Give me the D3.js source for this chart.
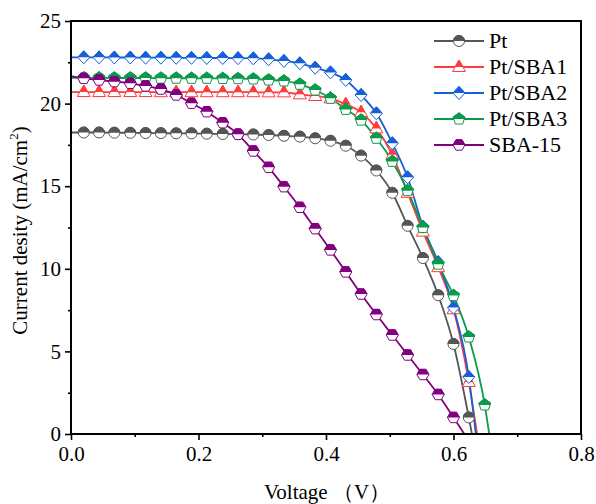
<!DOCTYPE html>
<html><head><meta charset="utf-8">
<script src="https://cdn.jsdelivr.net/npm/d3@7"></script>
<style>body{margin:0;background:#fff}svg{display:block}</style>
</head><body><svg id="c" width="596" height="504"></svg>
<script>
// ---------- data ----------
const voltage = [0.020, 0.044, 0.068, 0.093, 0.117, 0.141, 0.165, 0.189, 0.213, 0.238,
                 0.262, 0.286, 0.310, 0.334, 0.359, 0.383, 0.407, 0.431, 0.455, 0.479,
                 0.504, 0.528, 0.552, 0.576, 0.600, 0.624, 0.649];
const seriesNames = ["Pt", "Pt/SBA1", "Pt/SBA2", "Pt/SBA3", "SBA-15"];
const ptJ    = [18.25, 18.25, 18.24, 18.23, 18.22, 18.21, 18.20, 18.20, 18.18, 18.16,
                18.15, 18.13, 18.10, 18.05, 18.00, 17.90, 17.75, 17.45, 16.85, 15.95,
                14.60, 12.60, 10.65, 8.40, 5.45, 1.00];
const sba1J  = [20.70, 20.70, 20.70, 20.70, 20.70, 20.69, 20.69, 20.69, 20.69, 20.69,
                20.69, 20.69, 20.68, 20.68, 20.56, 20.46, 20.32, 19.96, 19.47, 18.50,
                16.90, 14.60, 12.25, 10.10, 7.55, 3.15];
const sba2J  = [22.80, 22.80, 22.79, 22.79, 22.78, 22.78, 22.77, 22.77, 22.76, 22.76,
                22.75, 22.74, 22.68, 22.58, 22.44, 22.17, 21.89, 21.43, 20.52, 19.41,
                17.60, 15.54, 12.55, 10.40, 7.65, 3.45];
const sba3J  = [21.56, 21.56, 21.55, 21.55, 21.55, 21.54, 21.54, 21.53, 21.53, 21.52,
                21.51, 21.49, 21.43, 21.37, 21.17, 20.82, 20.32, 19.65, 19.00, 17.90,
                16.50, 14.73, 12.50, 10.28, 8.38, 5.87, 1.76];
const sba15J = [21.53, 21.43, 21.33, 21.23, 21.07, 20.88, 20.52, 20.02, 19.51, 18.84,
                18.14, 17.13, 16.14, 14.97, 13.72, 12.43, 11.14, 9.81, 8.47, 7.23,
                5.99, 4.78, 3.60, 2.39, 1.00];
const jscValues = [18.25, 20.70, 22.80, 21.56, 21.67];   // current at V = 0
const vocValues = [0.629, 0.637, 0.635, 0.656, 0.617];   // voltage at J = 0
const xTicks = [0.0, 0.2, 0.4, 0.6, 0.8];
const xMinorTicks = [0.1, 0.3, 0.5, 0.7];
const yTicks = [0, 5, 10, 15, 20, 25];
const yMinorTicks = [2.5, 7.5, 12.5, 17.5, 22.5];

// ---------- style ----------
const colors = ["#555555", "#ff3b3b", "#1560d8", "#0b9a4c", "#800080"];
const shapes = ["circle", "triangle", "diamond", "pentagon", "hexagon"];
const seriesJ = [ptJ, sba1J, sba2J, sba3J, sba15J];
const FONT = "Liberation Serif";

const svg = d3.select("#c");
const L = 71, R = 581, T = 21, B = 434;
const x = d3.scaleLinear().domain([0, 0.8]).range([L, R]);
const y = d3.scaleLinear().domain([0, 25]).range([B, T]);

function shapePath(s) {
  const pts = [];
  if (s === "circle") return d3.symbol(d3.symbolCircle, Math.PI * 5.5 * 5.5)();
  if (s === "triangle") { pts.push([0, -7], [6.5, 4.5], [-6.5, 4.5]); }
  if (s === "diamond") { pts.push([0, -6.5], [6, 0], [0, 6.5], [-6, 0]); }
  if (s === "pentagon") { for (let k = 0; k < 5; k++) { const a = -Math.PI / 2 + k * 2 * Math.PI / 5; pts.push([6.2 * Math.cos(a), 6.2 * Math.sin(a)]); } }
  if (s === "hexagon") { for (let k = 0; k < 6; k++) { const a = k * Math.PI / 3; pts.push([6 * Math.cos(a), 6 * Math.sin(a)]); } }
  return "M" + pts.map(p => p.join(",")).join("L") + "Z";
}

const defs = svg.append("defs");
defs.append("clipPath").attr("id", "topHalf").append("rect")
  .attr("x", -12).attr("y", -12).attr("width", 24).attr("height", 12);
defs.append("clipPath").attr("id", "plotClip").append("rect")
  .attr("x", L).attr("y", T).attr("width", R - L).attr("height", B - T);

function drawMarker(g, cx, cy, i) {
  const m = g.append("g").attr("transform", `translate(${cx},${cy})`);
  const d = shapePath(shapes[i]);
  m.append("path").attr("d", d).attr("fill", "#fff").attr("stroke", colors[i]).attr("stroke-width", 1);
  m.append("path").attr("d", d).attr("fill", colors[i]).attr("stroke", colors[i]).attr("stroke-width", 1)
    .attr("clip-path", "url(#topHalf)");
}

// ---------- axes ----------
svg.append("g").attr("transform", `translate(0,${B})`)
  .call(d3.axisBottom(x).tickValues(xTicks).tickSize(6).tickPadding(6).tickFormat(d3.format(".1f")));
svg.append("g").attr("transform", `translate(0,${B})`)
  .call(d3.axisBottom(x).tickValues(xMinorTicks).tickSize(3).tickFormat(""));
svg.append("g").attr("transform", `translate(${L},0)`)
  .call(d3.axisLeft(y).tickValues(yTicks).tickSize(6).tickPadding(4));
svg.append("g").attr("transform", `translate(${L},0)`)
  .call(d3.axisLeft(y).tickValues(yMinorTicks).tickSize(3).tickFormat(""));
svg.selectAll(".domain").remove();
svg.selectAll("g").attr("font-family", null);
svg.selectAll(".tick line").attr("stroke", "#000").attr("stroke-width", 1.6);
svg.selectAll(".tick text").style("font-family", FONT).attr("font-size", 21).attr("fill", "#000");

// ---------- series ----------
const line = d3.line().x(d => x(d[0])).y(d => y(d[1])).curve(d3.curveMonotoneX);
const plot = svg.append("g").attr("clip-path", "url(#plotClip)");
seriesJ.forEach((J, i) => {
  const pts = [[0, jscValues[i]]].concat(J.map((v, k) => [voltage[k], v])).concat([[vocValues[i], 0]]);
  plot.append("path").attr("d", line(pts)).attr("fill", "none")
    .attr("stroke", colors[i]).attr("stroke-width", 1.8);
});
seriesJ.forEach((J, i) => {
  const g = plot.append("g");
  J.forEach((v, k) => drawMarker(g, x(voltage[k]), y(v), i));
});

// frame
svg.append("rect").attr("x", L).attr("y", T).attr("width", R - L).attr("height", B - T)
  .attr("fill", "none").attr("stroke", "#000").attr("stroke-width", 2);

// ---------- labels ----------
svg.append("text").attr("x", (L + R) / 2 + 1).attr("y", 499).attr("text-anchor", "middle")
  .style("font-family", FONT).attr("font-size", 21).text("Voltage （V）");
const yt = svg.append("text").attr("transform", `translate(27,${(T + B) / 2 + 3}) rotate(-90)`)
  .attr("text-anchor", "middle").style("font-family", FONT).attr("font-size", 21);
yt.append("tspan").text("Current desity (mA/cm");
yt.append("tspan").attr("font-size", 13).attr("dy", -9).text("2");
yt.append("tspan").attr("dy", 9).text(")");

// ---------- legend ----------
const legend = svg.append("g");
seriesNames.forEach((name, i) => {
  const cy = 41 + i * 26;
  legend.append("line").attr("x1", 434).attr("x2", 484).attr("y1", cy).attr("y2", cy)
    .attr("stroke", colors[i]).attr("stroke-width", 1.8);
  drawMarker(legend, 459, cy, i);
  legend.append("text").attr("x", 489).attr("y", cy + 7).style("font-family", FONT)
    .attr("font-size", 22).text(name);
});
</script></body></html>
